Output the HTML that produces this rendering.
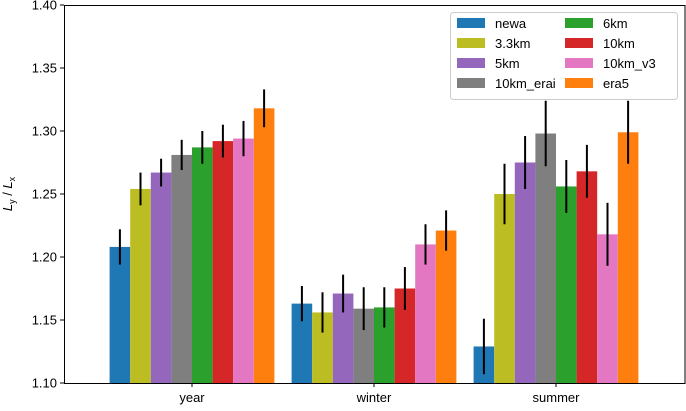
<!DOCTYPE html>
<html><head><meta charset="utf-8"><style>
body{margin:0;background:#fff;}
svg text{font-family:"Liberation Sans","DejaVu Sans",sans-serif;}
</style></head><body>
<svg id="chart" width="686" height="406" xmlns="http://www.w3.org/2000/svg">
<g id="plot"></g>
</svg>
<script>
const categories=["year","winter","summer"];
const seriesNames=["newa","3.3km","5km","10km_erai","6km","10km","10km_v3","era5"];
const colors=["#1f77b4","#bcbd22","#9467bd","#7f7f7f","#2ca02c","#d62728","#e377c2","#ff7f0e"];
const vNewa=[1.208,1.163,1.129];
const v33=[1.254,1.156,1.250];
const v5=[1.267,1.171,1.275];
const vErai=[1.281,1.159,1.298];
const v6=[1.287,1.160,1.256];
const v10=[1.292,1.175,1.268];
const vV3=[1.294,1.210,1.218];
const vEra5=[1.318,1.221,1.299];
const eNewa=[0.014,0.014,0.022];
const e33=[0.013,0.016,0.024];
const e5=[0.011,0.015,0.021];
const eErai=[0.012,0.017,0.026];
const e6=[0.013,0.016,0.021];
const e10=[0.013,0.017,0.021];
const eV3=[0.014,0.016,0.025];
const eEra5=[0.015,0.016,0.025];
const yTicks=[1.10,1.15,1.20,1.25,1.30,1.35,1.40];
const values=[vNewa,v33,v5,vErai,v6,v10,vV3,vEra5];
const errs=[eNewa,e33,e5,eErai,e6,e10,eV3,eEra5];

const L=64,R=686,T=5,B=383;
const y=v=>B-(v-1.10)/(0.30)*(B-T);
const x=i=>192+i*182;
const bw=20.6;
const NS="http://www.w3.org/2000/svg";
const svg=document.getElementById('chart');
function mk(tag,attrs,parent){const e=document.createElementNS(NS,tag);for(const k in attrs)e.setAttribute(k,attrs[k]);(parent||svg).appendChild(e);return e;}

values.forEach((vals,s)=>{
  vals.forEach((v,i)=>{
    const bx=x(i)-4*bw+s*bw;
    const r=mk('rect',{x:bx,y:y(v),width:bw,height:B-y(v),fill:colors[s]});
    
    
    const cx=bx+bw/2;
    const l=mk('line',{x1:cx,x2:cx,y1:y(v+errs[s][i]),y2:y(v-errs[s][i]),stroke:'#000','stroke-width':2});
    
    
  });
});
const fr=mk('rect',{x:L+0.5,y:T+0.5,width:R-L-1.5,height:B-T,fill:'none',stroke:'#000','stroke-width':1});


yTicks.forEach(t=>{
  const yy=y(t);
  mk('line',{x1:L-4,x2:L,y1:yy,y2:yy,stroke:'#000'});
  const tx=mk('text',{x:L-7,y:yy+4.5,'font-size':13,'text-anchor':'end'});
  tx.textContent=t.toFixed(2);
  
  
});
categories.forEach((c,i)=>{
  mk('line',{x1:x(i),x2:x(i),y1:B,y2:B+4,stroke:'#000'});
  const tx=mk('text',{x:x(i),y:B+19,'font-size':13,'text-anchor':'middle'});
  tx.textContent=c;
  
  
});
const yt=mk('text',{x:0,y:0,'font-size':13,'text-anchor':'middle',transform:'translate(12,194) rotate(-90)'});
yt.innerHTML='<tspan font-style="italic">L</tspan><tspan font-size="9" dy="3">y</tspan><tspan dy="-3"> / </tspan><tspan font-style="italic">L</tspan><tspan font-size="9" dy="3">x</tspan>';


const lg=mk('g',{});


mk('rect',{x:450.5,y:12.5,width:227,height:87,rx:3,fill:'#fff','fill-opacity':0.8,stroke:'#ccc'},lg);
seriesNames.forEach((n,s)=>{
  const col=Math.floor(s/4),row=s%4;
  const lx=457+col*108, ly=18+row*20;
  const g=mk('g',{},lg);
  
  
  mk('rect',{x:lx,y:ly,width:28,height:10,fill:colors[s]},g);
  const t=mk('text',{x:lx+38,y:ly+10,'font-size':13},g);
  t.textContent=n;
});
</script>
</body></html>
